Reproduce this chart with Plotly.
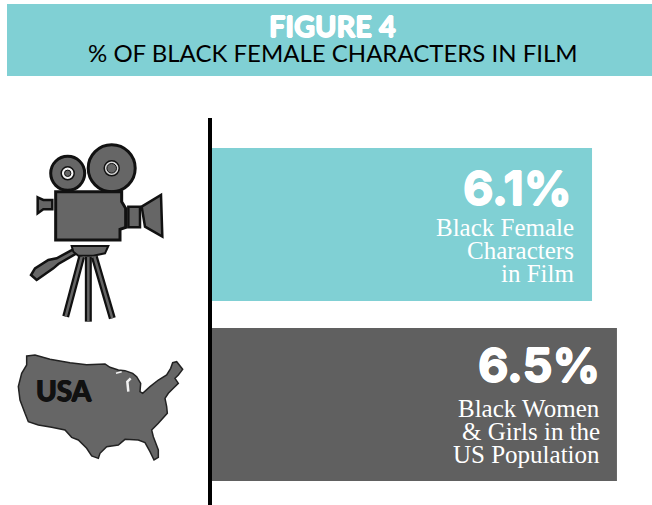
import plotly.graph_objects as go

categories = ["Black Female Characters in Film", "Black Women & Girls in the US Population"]
values = [6.1, 6.5]
label_lines = [["Black Female", "Characters", "in Film"], ["Black Women", "&amp; Girls in the", "US Population"]]
bar_colors = ["#80D0D4", "#606060"]
title_top = "FIGURE 4"
title_sub = "% OF BLACK FEMALE CHARACTERS IN FILM"

W, H = 652, 505
TEAL, GREY, INK = "#80D0D4", "#666666", "#111111"

def px(x): return x / W
def py(y): return 1 - y / H

def path_from(points, close=True):
    d = "M" + " L".join(f"{px(x):.5f},{py(y):.5f}" for x, y in points)
    return d + (" Z" if close else "")

def cam(points):
    return [(25 + x / 3, 140 + y / 3) for x, y in points]

def usa(points):
    return [(10 + x / 3, 350 + y / 3) for x, y in points]

def circle(cx, cy, r, fill, line=INK, lw=2.5):
    return dict(type="circle", xref="paper", yref="paper", x0=px(cx - r), x1=px(cx + r),
                y0=py(cy + r), y1=py(cy - r), fillcolor=fill, line=dict(color=line, width=lw), layer="above")

def rect(x0, y0, x1, y1, fill, line=INK, lw=2.5, layer="above"):
    return dict(type="rect", xref="paper", yref="paper", x0=px(x0), x1=px(x1), y0=py(y1), y1=py(y0),
                fillcolor=fill, line=dict(color=line, width=lw), layer=layer)

def poly(points, fill=GREY, line=INK, lw=2.5):
    return dict(type="path", xref="paper", yref="paper", path=path_from(points), fillcolor=fill,
                line=dict(color=line, width=lw), layer="above")

def stroke(points, color=INK, lw=5):
    return dict(type="path", xref="paper", yref="paper", path=path_from(points, close=False),
                line=dict(color=color, width=lw), layer="above")

usa_outline = usa([
    (50,18),(75,15),(120,28),(180,38),(230,44),(285,42),(300,52),(325,60),(345,62),(368,70),(380,80),
    (392,100),(390,125),(398,130),(420,110),(445,90),(470,75),(482,55),(488,38),(500,35),(518,58),
    (505,75),(495,85),(505,100),(490,115),(475,130),(465,145),(470,170),(472,190),(445,220),(425,240),
    (430,260),(445,300),(445,322),(432,330),(420,305),(405,278),(385,270),(345,268),(325,285),(290,290),
    (270,310),(265,325),(245,318),(230,295),(205,270),(185,262),(165,240),(125,232),(85,225),(55,215),
    (45,190),(30,150),(25,110),(35,70),(50,45)])

legs = [[(170,350),(122,530)], [(190,350),(190,545)], [(208,350),(262,535)]]

shapes = [rect(7, 4, 652, 76, TEAL, line=TEAL, lw=0, layer="below")]
# camera
for leg in legs:
    shapes.append(stroke(cam(leg), lw=7))
    shapes.append(stroke(cam(leg), color=GREY, lw=2.5))
shapes += [
    circle(67.7, 173.3, 17, GREY, lw=3), circle(67.7, 173.3, 6.5, "#F4F4F4", lw=1.5), circle(67.7, 173.3, 3.2, GREY, lw=1),
    circle(111.7, 168.3, 23.5, GREY, lw=3), circle(111.7, 168.3, 7.5, "#D8D8D8", line=INK, lw=1.5), circle(111.7, 168.3, 4.8, GREY, line=INK, lw=1),
    poly(cam([(92,155),(290,155),(290,185),(302,205),(302,262),(285,268),(285,300),(92,300)]), lw=3),
    poly(cam([(38,172),(55,180),(82,180),(82,208),(55,208),(38,220)])),
    poly(cam([(310,200),(345,200),(345,262),(310,262)])),
    poly(cam([(350,200),(408,165),(412,290),(360,260)])),
    poly(cam([(150,325),(155,340),(100,372),(85,385),(35,420),(18,405),(30,385),(70,360),(95,355)])),
    poly(cam([(140,318),(250,318),(240,340),(205,347),(160,347),(145,335)]), lw=2),
    # map
    poly(usa_outline, fill=GREY, line="#222222", lw=1.5),
    stroke(usa([(355,125),(352,95),(362,85)]), color="#F2F2F2", lw=2.5),
    stroke(usa([(318,70),(335,65)]), color="#F2F2F2", lw=1.5),
]

fig = go.Figure(go.Bar(
    y=categories, x=values, orientation="h", width=0.85,
    marker=dict(color=bar_colors, line=dict(width=0)), hoverinfo="skip",
))

WHITE_HEAVY = "0.8px 0 0 #FFFFFF, -0.8px 0 0 #FFFFFF, 0 0.6px 0 #FFFFFF, 0 -0.6px 0 #FFFFFF"
INK_HEAVY = "0.7px 0 0 #111111, -0.7px 0 0 #111111, 0 0.5px 0 #111111"
annotations = [
    dict(xref="paper", yref="paper", x=px(332.5), y=py(25), xanchor="center", yanchor="middle",
         text=f"<b>{title_top}</b>", showarrow=False,
         font=dict(family="Lato", size=29, color="#FFFFFF", weight=900, shadow=WHITE_HEAVY)),
    dict(xref="paper", yref="paper", x=px(333), y=py(53), xanchor="center", yanchor="middle",
         text=title_sub, showarrow=False,
         font=dict(family="Lato", size=24, color="#000000", weight=400)),
    dict(xref="paper", yref="paper", x=px(64), y=py(390), xanchor="center", yanchor="middle",
         text="<b>USA</b>", showarrow=False,
         font=dict(family="Lato", size=28, color="#111111", weight=900, shadow=INK_HEAVY)),
]
big_inset = (23, 20)
big_shift = (37, 40)
line_inset = (18, 17)
line_shifts = ((-3, -26, -49), (-4, -27, -50))
for i, v in enumerate(values):
    annotations.append(dict(xref="x", yref="y", x=v, y=i, xanchor="right", yanchor="middle", xshift=-(big_inset[i] - 5),
                            yshift=big_shift[i], text=f"<b>{v}%</b>", showarrow=False,
                            font=dict(family="Inter", size=47, color="#FFFFFF", weight=900, shadow=WHITE_HEAVY)))
    for line, shift in zip(label_lines[i], line_shifts[i]):
        annotations.append(dict(xref="x", yref="y", x=v, y=i, xanchor="right", yanchor="middle", xshift=-(line_inset[i] - 2),
                                yshift=shift, text=line, showarrow=False,
                                font=dict(family="Liberation Serif", size=25, color="#FFFFFF")))

fig.update_layout(
    width=W, height=H, margin=dict(l=0, r=0, t=0, b=0), autosize=False,
    paper_bgcolor="#FFFFFF", plot_bgcolor="#FFFFFF", showlegend=False,
    xaxis=dict(domain=[212 / W, 1], range=[0, 440 / 62.3], visible=False, fixedrange=True),
    yaxis=dict(domain=[0, (H - 118) / H], type="category", range=[1.558, -0.592], showticklabels=False,
               ticks="", showgrid=False, zeroline=False, showline=True, linecolor="#000000", linewidth=4,
               fixedrange=True),
    shapes=shapes, annotations=annotations,
)

fig.write_html("out.html", config={"displayModeBar": False},
               post_script="document.body.style.margin='0';")
